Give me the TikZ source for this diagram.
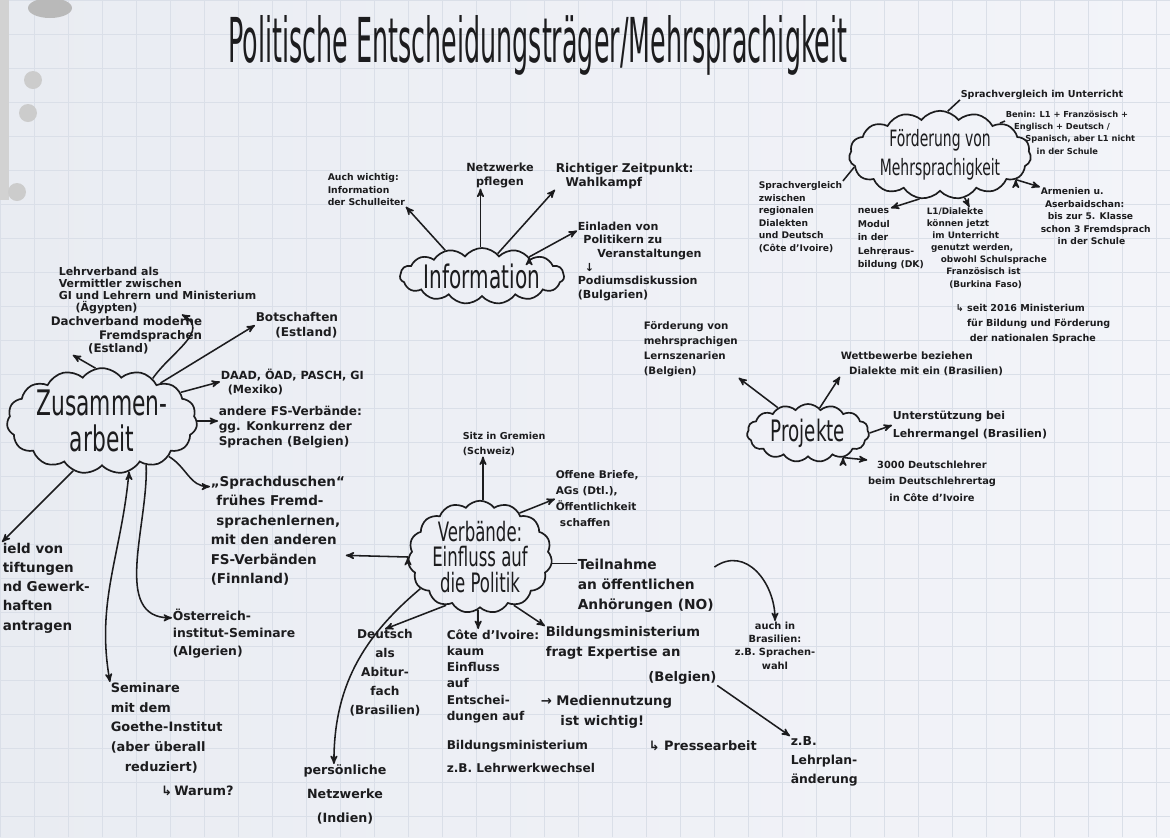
\documentclass[tikz,border=0pt]{standalone}
\usepackage{fontspec}
\setmainfont{DejaVu Sans}
\newfontfamily\titelfont{DejaVu Sans}[FakeStretch=0.41]
\newfontfamily\wolkenfont{DejaVu Sans}[FakeStretch=0.62]
\newfontfamily\pfeilfont{DejaVu Sans}
\usetikzlibrary{arrows,shapes.symbols}

\definecolor{ink}{HTML}{1C1C1E}
\definecolor{paperL}{HTML}{E9ECF2}
\definecolor{paperR}{HTML}{F3F4F9}
\definecolor{rules}{HTML}{DADFE8}
\newcommand{\schrift}[2]{\fontsize{#1}{#2}\selectfont\bfseries}

\begin{document}
\begin{tikzpicture}[x=0.025cm,y=-0.025cm,>=stealth',line width=1.1pt]
  \tikzstyle{wolke}=[cloud,draw=ink,line width=1.2pt,cloud puffs=15,cloud puff arc=105,
                     cloud ignores aspect,inner sep=0pt,text=ink,align=center]
  \tikzstyle{notiz}=[anchor=north west,align=left,inner sep=0pt,text=ink]
  \tikzstyle{pfeil}=[draw=ink,->]
  \tikzstyle{strich}=[draw=ink]

  % Papier
  \useasboundingbox (0,0) rectangle (1170,837);
  \shade[left color=paperL,right color=paperR] (0,0) rectangle (1170,837);
  \draw[rules,line width=0.4pt,step=0.85cm] (0,0) grid (1170,837);
  \fill[gray!35] (0,0) rectangle (9,200);
  \fill[gray!55] (50,8) ellipse (22 and 10);
  \fill[gray!40] (33,80) circle (9);
  \fill[gray!40] (28,113) circle (9);
  \fill[gray!40] (17,192) circle (9);

  \node[text=ink] (titel) at (538,45)
       {\titelfont\fontsize{44}{44}\selectfont Politische Entscheidungsträger/Mehrsprachigkeit};

  % Wolken
  \node[wolke,minimum width=4.1cm,minimum height=2.4cm,
        font=\wolkenfont\fontsize{25}{26}\selectfont] (zus) at (102,421) {Zusammen-\\arbeit};
  \node[wolke,minimum width=4.1cm,minimum height=1.4cm,
        font=\wolkenfont\fontsize{23}{24}\selectfont] (info) at (482,276) {Information};
  \node[wolke,minimum width=4.55cm,minimum height=1.9cm,
        font=\wolkenfont\fontsize{16}{21}\selectfont] (foerd) at (940,155) {Förderung von\\Mehrsprachigkeit};
  \node[wolke,minimum width=3.05cm,minimum height=1.45cm,
        font=\wolkenfont\fontsize{21}{22}\selectfont] (proj) at (808,433) {Projekte};
  \node[wolke,minimum width=3.6cm,minimum height=2.5cm,
        font=\wolkenfont\fontsize{19}{18}\selectfont] (verb) at (480,557) {Verbände:\\Einfluss auf\\die Politik};

  % Zusammenarbeit
  \node[notiz,font=\schrift{7.8}{8.6}] (z1) at (58,266)
       {Lehrverband als\\Vermittler zwischen\\GI und Lehrern und Ministerium\\\hspace*{12pt}(Ägypten)};
  \node[notiz,align=right,font=\schrift{8.4}{9.6}] (z2) at (50,316)
       {Dachverband moderne\\Fremdsprachen\\(Estland)\hspace*{38pt}};
  \node[notiz,font=\schrift{8.6}{10}] (z3) at (255,312) {Botschaften\\\hspace*{14pt}(Estland)};
  \node[notiz,font=\schrift{8}{10}] (z4) at (220,368) {DAAD, ÖAD, PASCH, GI\\\hspace*{5pt}(Mexiko)};
  \node[notiz,font=\schrift{8.6}{10.7}] (z5) at (218,405)
       {andere FS-Verbände:\\gg. Konkurrenz der\\Sprachen (Belgien)};
  \node[notiz,font=\schrift{9.6}{13.9}] (z6) at (210,475)
       {„Sprachduschen“\\\hspace*{4pt}frühes Fremd-\\\hspace*{4pt}sprachenlernen,\\mit den anderen\\FS-Verbänden\\(Finnland)};
  \node[notiz,font=\schrift{9.6}{13.7}] (z7) at (2,542)
       {ield von\\tiftungen\\nd Gewerk-\\haften\\antragen};
  \node[notiz,font=\schrift{8.8}{12.4}] (z8) at (172,608) {Österreich-\\institut-Seminare\\(Algerien)};
  \node[notiz,font=\schrift{9.2}{14}] (z9) at (110,682)
       {Seminare\\mit dem\\Goethe-Institut\\(aber überall\\\hspace*{10pt}reduziert)\\[3pt]\hspace*{36pt}{\pfeilfont ↳}\,Warum?};

  % Information
  \node[notiz,font=\schrift{6.6}{8.9}] (i1) at (327,173) {Auch wichtig:\\Information\\der Schulleiter};
  \node[notiz,anchor=north,align=center,font=\schrift{8}{10}] (i2) at (500,162) {Netzwerke\\pflegen};
  \node[notiz,font=\schrift{8.6}{9.6}] (i3) at (555,163) {Richtiger Zeitpunkt:\\\hspace*{7pt}Wahlkampf};
  \node[notiz,font=\schrift{7.9}{9.7}] (i4) at (577,221)
       {Einladen von\\\hspace*{4pt}Politikern zu\\\hspace*{14pt}Veranstaltungen\\\hspace*{5pt}{\pfeilfont ↓}\\Podiumsdiskussion\\(Bulgarien)};

  % Foerderung von Mehrsprachigkeit
  \node[notiz,font=\schrift{6.8}{8}] (f1) at (960,89) {Sprachvergleich im Unterricht};
  \node[notiz,font=\schrift{5.9}{8.8}] (f2) at (1005,110)
       {Benin: L1 + Französisch +\\\hspace*{6pt}Englisch + Deutsch /\\\hspace*{14pt}Spanisch, aber L1 nicht\\\hspace*{22pt}in der Schule};
  \node[notiz,font=\schrift{6.5}{8.9}] (f3) at (758,181)
       {Sprachvergleich\\zwischen\\regionalen\\Dialekten\\und Deutsch\\(Côte d'Ivoire)};
  \node[notiz,font=\schrift{6.6}{9.6}] (f4) at (857,208) {neues\\Modul\\in der\\Lehreraus-\\bildung (DK)};
  \node[notiz,font=\schrift{6.3}{8.6}] (f5) at (926,207)
       {L1/Dialekte\\können jetzt\\\hspace*{4pt}im Unterricht\\\hspace*{3pt}genutzt werden,\\\hspace*{10pt}obwohl Schulsprache\\\hspace*{14pt}Französisch ist\\\hspace*{16pt}(Burkina Faso)};
  \node[notiz,font=\schrift{6.8}{11}] (f6) at (955,303)
       {{\pfeilfont ↳} seit 2016 Ministerium\\\hspace*{8pt}für Bildung und Förderung\\\hspace*{10pt}der nationalen Sprache};
  \node[notiz,font=\schrift{6.5}{8.9}] (f7) at (1040,187)
       {Armenien u.\\\hspace*{3pt}Aserbaidschan:\\\hspace*{5pt}bis zur 5. Klasse\\schon 3 Fremdsprach\\\hspace*{12pt}in der Schule};

  % Projekte
  \node[notiz,font=\schrift{7.3}{10.7}] (p1) at (643,321) {Förderung von\\mehrsprachigen\\Lernszenarien\\(Belgien)};
  \node[notiz,font=\schrift{7.2}{10.7}] (p2) at (840,351) {Wettbewerbe beziehen\\\hspace*{6pt}Dialekte mit ein (Brasilien)};
  \node[notiz,font=\schrift{7.8}{12.8}] (p3) at (892,410) {Unterstützung bei\\Lehrermangel (Brasilien)};
  \node[notiz,anchor=north,align=center,font=\schrift{7}{11.7}] (p4) at (932,460)
       {3000 Deutschlehrer\\beim Deutschlehrertag\\in Côte d'Ivoire};

  % Verbaende
  \node[notiz,font=\schrift{6.8}{11}] (v1) at (462,431) {Sitz in Gremien\\(Schweiz)};
  \node[notiz,font=\schrift{7.5}{11.4}] (v2) at (555,470) {Offene Briefe,\\AGs (Dtl.),\\Öffentlichkeit\\\hspace*{3pt}schaffen};
  \node[notiz,font=\schrift{9.8}{14.2}] (v3) at (577,558) {Teilnahme\\an öffentlichen\\Anhörungen (NO)};
  \node[notiz,anchor=north,align=center,font=\schrift{7}{9.5}] (v4) at (775,621) {auch in\\Brasilien:\\z.B. Sprachen-\\wahl};
  \node[notiz,anchor=north,align=center,font=\schrift{8.6}{13.5}] (v5) at (385,629) {Deutsch\\als\\Abitur-\\fach\\(Brasilien)};
  \node[notiz,font=\schrift{8.6}{11.5}] (v6) at (446,629)
       {Côte d'Ivoire:\\kaum\\Einfluss\\auf\\Entschei-\\dungen auf\\[9pt]Bildungsministerium\\[5pt]z.B. Lehrwerkwechsel};
  \node[notiz,font=\schrift{9.4}{14}] (v7) at (545,626) {Bildungsministerium\\fragt Expertise an\\[4pt]\hspace*{73pt}(Belgien)};
  \node[notiz,font=\schrift{9.4}{14}] (v8) at (540,695) {{\pfeilfont →} Mediennutzung\\\hspace*{14pt}ist wichtig!};
  \node[notiz,font=\schrift{9.2}{11}] (v9) at (648,740) {{\pfeilfont ↳} Pressearbeit};
  \node[notiz,font=\schrift{8.8}{13.5}] (v10) at (790,736) {z.B.\\Lehrplan-\\änderung};
  \node[notiz,anchor=north,align=center,font=\schrift{9}{17}] (v11) at (345,764) {persönliche\\Netzwerke\\(Indien)};

  % Verbindungen
  \draw[pfeil] (zus.97) edge (z2.-160)
        (zus.40) edge[out=55,in=-30,looseness=1.2] (z1.-45)
        (zus.33) edge (z3.west)
        (zus.20) edge (z4.west)
        (zus.east) edge (zus.east -| z5.west)
        (zus.-28) edge[out=-30,in=180] (z6.147)
        (zus.-120) edge (z7.north west)
        (zus.-45) edge[out=-88,in=180] (z8.166)
        (zus.-62) edge[out=-95,in=100] (z9.north west);
  \draw[pfeil] (info.145) edge (i1.south east)
        (info.93) edge (info.93 |- i2.south)
        (info.55) edge (i3.south west)
        (info.22) edge (i4.154);
  \draw[strich] (foerd.80) -- (f1.south west)
        (foerd.28) -- (f2.170)
        (foerd.188) -- (f3.north east);
  \draw[pfeil] (foerd.-115) edge (f4.north)
        (foerd.-60) edge (f5.113)
        (foerd.-18) edge (f7.north west);
  \draw[pfeil] (proj.140) edge (p1.south east)
        (proj.65) edge (p2.south west)
        (proj.east) edge (p3.west)
        (proj.-35) edge (p4.north west);
  \draw[pfeil] (verb.87) edge (verb.87 |- v1.south)
        (verb.48) edge (v2.west)
        (v3.15) edge[out=35,in=90,looseness=1.2] (v4.north)
        (verb.-125) edge (v5.north)
        (verb.-92) edge (verb.-92 |- v6.north)
        (verb.-55) edge (v7.north west)
        (v7.south east) edge (v10.north west)
        (verb.-152) edge[out=-140,in=90] (v11.110)
        (verb.west) edge (z6.-20);
  \draw[strich] (verb.-5) -- (verb.-5 -| v3.west);
\end{tikzpicture}
\end{document}
